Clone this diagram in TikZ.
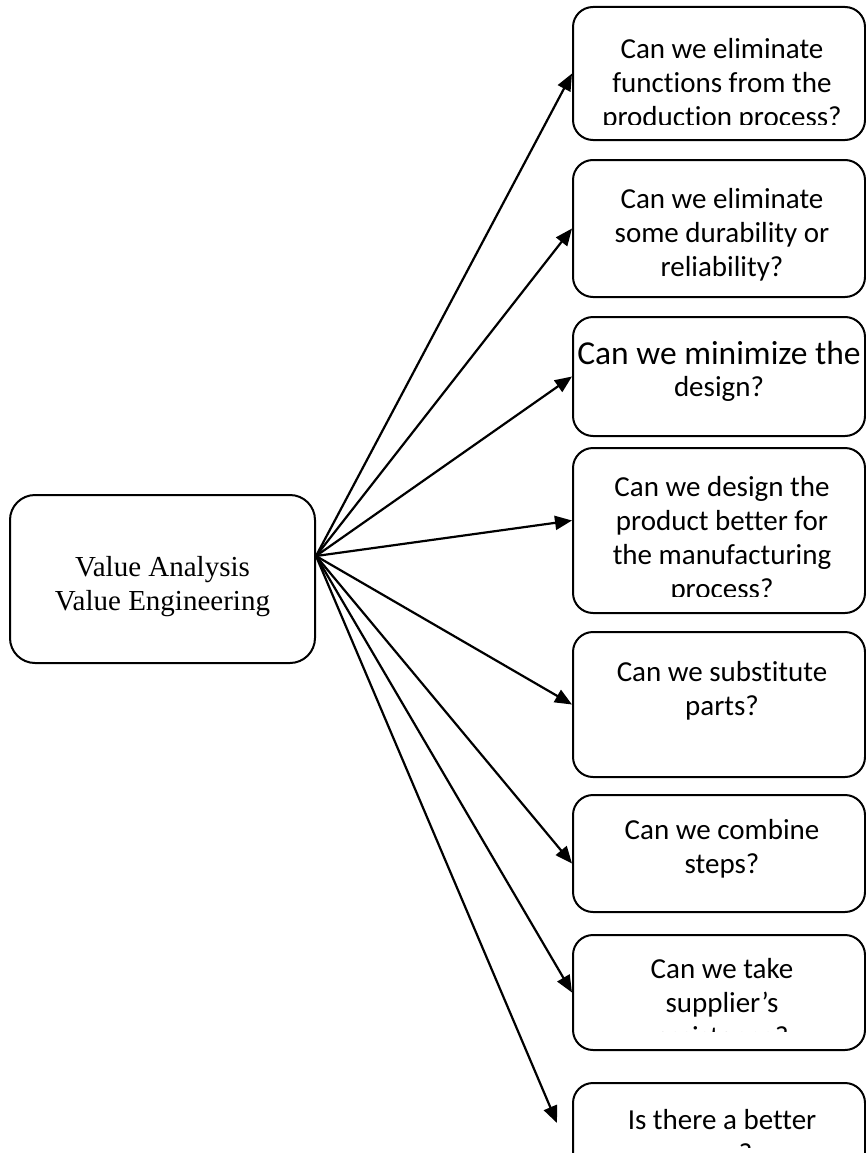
\documentclass[tikz,border=0pt]{standalone}
\usepackage{fontspec}
\newfontfamily\qfont[Ligatures=NoCommon]{Carlito}
\newfontfamily\vfont{Liberation Serif}
\usetikzlibrary{arrows.meta,calc}

\tikzset{
  qbox/.style={draw=black, line width=2pt, rounded corners=20pt,
    minimum width=292pt, inner sep=0pt, fill=white},
  mainbox/.style={draw=black, line width=2pt, rounded corners=25pt,
    minimum width=305pt, minimum height=168pt, inner sep=0pt},
  qtext/.style={anchor=north, align=center, inner sep=0pt,
    font=\qfont\fontsize{29}{34}\selectfont},
  bigqtext/.style={qtext, font=\qfont\fontsize{33.5}{32}\selectfont},
  maintext/.style={align=center, inner sep=0pt,
    font=\vfont\fontsize{29}{34}\selectfont},
  link/.style={line width=2.2pt, -{Triangle[length=17pt,width=14pt]}}
}

\begin{document}
\begin{tikzpicture}[x=1pt,y=-1pt]
  % page frame; everything outside it is cut away
  \clip (0,0) rectangle (866,1153);
  \fill[white] (0,0) rectangle (866,1153);

  % central box
  \node[mainbox] (vae) at (162.5,579) {};
  \node[maintext] (vaetext) at (162.5,587) {Value Analysis\\Value Engineering};
  \coordinate (hub) at ($(vae.east)+(0,-23)$);

  % question boxes (text is top aligned and cut off at the lower margin)
  \node[qbox, minimum height=133pt] (b1) at (719,73.5) {};
  \begin{scope}
    \clip (560,0) rectangle (866,125);
    \node[qtext] (t1) at (722,35) {\strut Can we eliminate\\functions from the\\production process?};
  \end{scope}

  \node[qbox, minimum height=137pt] (b2) at (719,228.5) {};
  \node[qtext] (t2) at (722,184) {\strut Can we eliminate\\some durability or\\reliability?};

  \node[qbox, minimum height=119pt] (b3) at (719,376.5) {};
  \node[bigqtext] (t3) at (719,341) {\strut Can we minimize the\\{\fontsize{29}{32}\selectfont design?}};

  \node[qbox, minimum height=165pt] (b4) at (719,530.5) {};
  \begin{scope}
    \clip (560,448) rectangle (866,596);
    \node[qtext] (t4) at (722,472) {\strut Can we design the\\product better for\\the manufacturing\\process?};
  \end{scope}

  \node[qbox, minimum height=145pt] (b5) at (719,704.5) {};
  \node[qtext] (t5) at (722,657) {\strut Can we substitute\\parts?};

  \node[qbox, minimum height=117pt] (b6) at (719,853.5) {};
  \node[qtext] (t6) at (722,815) {\strut Can we combine\\steps?};

  \node[qbox, minimum height=115pt] (b7) at (719,992.5) {};
  \begin{scope}
    \clip (560,935) rectangle (866,1031);
    \node[qtext] (t7) at (722,954) {\strut Can we take\\supplier’s\\assistance?};
  \end{scope}

  \node[qbox, minimum height=130pt] (b8) at (719,1148) {};
  \begin{scope}
    \clip (560,1083) rectangle (866,1147);
    \node[qtext] (t8) at (722,1105) {\strut Is there a better\\way?};
  \end{scope}

  % connectors from the central box
  \coordinate (e4) at ($(b4.west)+(0,-10)$);
  \coordinate (e6) at ($(b6.west)+(0,10)$);
  \coordinate (e8) at (557,1123);
  \draw[link] (hub) -- (b1.west);
  \draw[link] (hub) -- (b2.west);
  \draw[link] (hub) -- (b3.west);
  \draw[link] (hub) -- (e4);
  \draw[link] (hub) -- (b5.west);
  \draw[link] (hub) -- (e6);
  \draw[link] (hub) -- (b7.west);
  \draw[link] (hub) -- (e8);
\end{tikzpicture}
\end{document}
